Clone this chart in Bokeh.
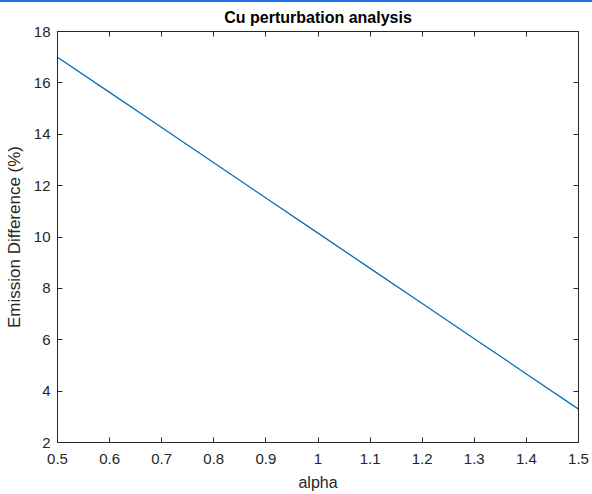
from bokeh.plotting import figure
from bokeh.models import LinearAxis, FixedTicker, Range1d, Div, ColumnDataSource
from bokeh.layouts import column
from bokeh.embed import file_html
from bokeh.resources import INLINE

# Data
alpha = [0.5, 0.6, 0.7, 0.8, 0.9, 1.0, 1.1, 1.2, 1.3, 1.4, 1.5]
emission_diff = [17.0, 15.63, 14.26, 12.89, 11.52, 10.15, 8.78, 7.41, 6.04, 4.67, 3.3]

x_ticks = [0.5, 0.6, 0.7, 0.8, 0.9, 1.0, 1.1, 1.2, 1.3, 1.4, 1.5]
x_tick_labels = ["0.5", "0.6", "0.7", "0.8", "0.9", "1", "1.1", "1.2", "1.3", "1.4", "1.5"]
y_ticks = [2, 4, 6, 8, 10, 12, 14, 16, 18]
y_tick_labels = ["2", "4", "6", "8", "10", "12", "14", "16", "18"]

title_text = "Cu perturbation analysis"
x_label = "alpha"
y_label = "Emission Difference (%)"

FONT = "Liberation Sans"
AX = "#262626"

p = figure(width=592, height=492, output_backend="svg", toolbar_location=None,
           x_range=Range1d(0.5, 1.5), y_range=Range1d(2, 18),
           min_border_left=57, min_border_right=14, min_border_top=29, min_border_bottom=52,
           title=title_text)
p.background_fill_color = "white"
p.border_fill_color = "white"
p.outline_line_color = AX
p.outline_line_width = 1
p.xgrid.visible = False
p.ygrid.visible = False

p.title.align = "center"
p.title.vertical_align = "top"
p.title.text_font = FONT
p.title.text_font_size = "16px"
p.title.text_font_style = "bold"
p.title.text_color = "#000000"
p.title.standoff = 8

src = ColumnDataSource(dict(x=alpha, y=emission_diff))
p.line("x", "y", source=src, line_color="#0072BD", line_width=1.3)

xt = FixedTicker(ticks=x_ticks)
yt = FixedTicker(ticks=y_ticks)

def style_axis(ax, show_labels):
    ax.axis_line_color = AX
    ax.major_tick_line_color = AX
    ax.major_tick_in = 5
    ax.major_tick_out = 0
    ax.minor_tick_line_color = None
    ax.major_label_text_font = FONT
    ax.major_label_text_color = AX
    if not show_labels:
        ax.major_label_text_font_size = "0px"
        ax.major_label_text_alpha = 0
    else:
        ax.major_label_text_font_size = "15px"

xa = p.xaxis[0]
xa.ticker = xt
xa.major_label_overrides = {t: l for t, l in zip(x_ticks, x_tick_labels)}
style_axis(xa, True)
xa.major_label_standoff = 11
xa.axis_label = x_label
xa.axis_label_text_font = FONT
xa.axis_label_text_font_size = "16px"
xa.axis_label_text_font_style = "normal"
xa.axis_label_text_color = AX
xa.axis_label_standoff = 7

ya = p.yaxis[0]
ya.ticker = yt
ya.major_label_overrides = {t: l for t, l in zip(y_ticks, y_tick_labels)}
style_axis(ya, True)
ya.major_label_standoff = 7
ya.axis_label = y_label
ya.axis_label_text_font = FONT
ya.axis_label_text_font_size = "17px"
ya.axis_label_text_font_style = "normal"
ya.axis_label_text_color = AX
ya.axis_label_standoff = 7

top = LinearAxis(ticker=FixedTicker(ticks=x_ticks))
style_axis(top, False)
p.add_layout(top, "above")
right = LinearAxis(ticker=FixedTicker(ticks=y_ticks))
style_axis(right, False)
p.add_layout(right, "right")

bar = Div(text="", width=592, height=2, margin=(0, 0, 0, 0),
          styles={"background-color": "#1a73e8", "width": "592px", "height": "2px"})

layout = column(bar, p, spacing=0)
open("out.html", "w").write(file_html(layout, INLINE))
